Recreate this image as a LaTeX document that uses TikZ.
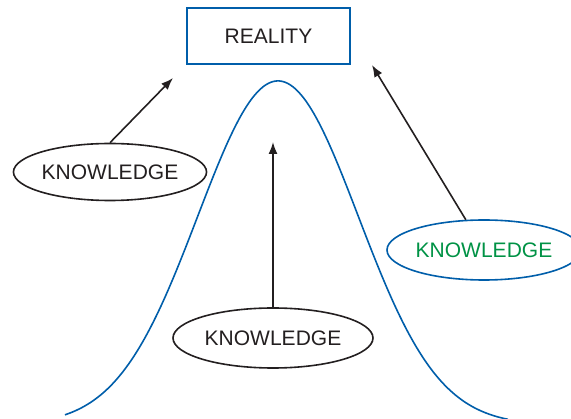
\documentclass[tikz,border=0pt]{standalone}
\usepackage{fontspec}
\setmainfont{Liberation Sans}
\usetikzlibrary{shapes.geometric,arrows.meta}
\definecolor{curveblue}{RGB}{0,94,170}
\definecolor{textgreen}{RGB}{0,146,69}
\definecolor{ink}{RGB}{35,31,32}
\tikzset{
  realitybox/.style={draw=curveblue, line width=1.8pt, rectangle, minimum width=163pt,
    minimum height=56pt, inner sep=0pt, text=ink, font=\fontsize{21}{24}\selectfont},
  knowbubble/.style={draw=ink, line width=1.6pt, ellipse, inner sep=0pt, text=ink,
    font=\fontsize{21}{24}\selectfont},
  arr/.style={draw=ink, line width=1.6pt, -{Latex[length=12pt,width=9pt]}},
  bell/.style={draw=curveblue, line width=1.6pt}
}
\begin{document}
\begin{tikzpicture}[x=1pt, y=-1pt]
  \useasboundingbox (0,0) rectangle (571,419);
  \clip (0,0) rectangle (571,419);

  % normal curve
  \draw[bell] plot[domain=65:508, samples=160, smooth]
    (\x, {425-344*exp(-((\x-278)/100)^2/1.2897)});

  % nodes
  \node[realitybox] (real) at (268.5,36) {REALITY};
  \node[knowbubble, minimum width=193pt, minimum height=57pt] (lk) at (110,172) {KNOWLEDGE};
  \node[knowbubble, minimum width=200pt, minimum height=60pt] (ck) at (273,338) {KNOWLEDGE};
  \node[knowbubble, draw=curveblue, text=textgreen, minimum width=194pt, minimum height=60pt]
    (rk) at (484,250) {KNOWLEDGE};

  % arrow tips
  \coordinate (lt) at (173,78);
  \coordinate (ct) at (273,142);
  \coordinate (rt) at (372,65);

  % arrows
  \draw[arr] (lk.north) -- (lt);
  \draw[arr] (ck.north) -- (ct);
  \draw[arr] (rk.121) -- (rt);
\end{tikzpicture}
\end{document}
